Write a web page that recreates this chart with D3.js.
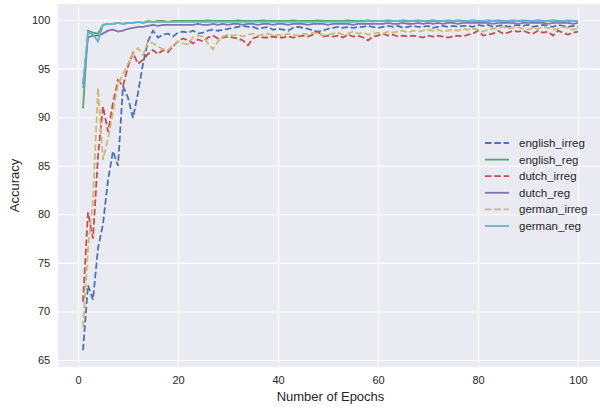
<!DOCTYPE html>
<html>
<head>
<meta charset="utf-8">
<title>Accuracy per epoch</title>
<script src="https://cdn.jsdelivr.net/npm/d3@7"></script>
<style>
  body { margin: 0; background: #fff; }
  svg text { font-family: "Liberation Sans", Arial, sans-serif; fill: #262626; }
</style>
</head>
<body>
<div id="chart"></div>
<script>
    // values, one per epoch (1..100)
    var englishIrreg = [66.0, 72.7, 71.2, 76.5, 79.0, 83.5, 86.5, 85.0, 93.2, 92.0,
        89.9, 92.5, 95.5, 97.8, 98.9, 98.2, 98.5, 98.6, 98.3, 98.7,
        98.8, 98.7, 98.9, 98.6, 98.7, 98.9, 99.0, 98.9, 99.0, 99.1,
        99.2, 99.3, 99.4, 99.3, 99.3, 99.1, 99.2, 99.3, 99.0, 99.1,
        99.0, 98.9, 99.2, 99.3, 99.2, 99.1, 98.9, 98.8, 98.9, 99.1,
        99.2, 99.3, 99.2, 99.3, 99.2, 99.3, 99.3, 99.4, 99.3, 99.2,
        99.3, 99.4, 99.3, 99.4, 99.2, 99.3, 99.4, 99.3, 99.3, 99.4,
        99.2, 99.3, 99.4, 99.3, 99.4, 99.3, 99.4, 99.4, 99.3, 99.5,
        99.4, 99.5, 99.3, 99.4, 99.5, 99.3, 99.4, 99.5, 99.4, 99.5,
        99.3, 99.4, 99.5, 99.4, 99.3, 99.5, 99.4, 99.3, 99.4, 99.3];
    var englishReg = [90.9, 98.9, 98.7, 98.6, 99.5, 99.6, 99.6, 99.7, 99.6, 99.7,
        99.7, 99.8, 99.7, 99.9, 99.8, 99.9, 99.9, 99.8, 99.9, 99.9,
        99.9, 99.9, 99.9, 99.9, 99.9, 99.95, 99.9, 99.9, 99.9, 99.9,
        99.9, 99.95, 99.9, 99.9, 99.9, 99.9, 99.95, 99.9, 99.9, 99.9,
        99.9, 99.9, 99.95, 99.9, 99.9, 99.9, 99.9, 99.95, 99.9, 99.9,
        99.9, 99.9, 99.9, 99.95, 99.9, 99.9, 99.9, 99.95, 99.9, 99.9,
        99.9, 99.95, 99.9, 99.9, 99.95, 99.9, 99.9, 99.95, 99.9, 99.9,
        99.95, 99.9, 99.9, 99.95, 99.9, 99.95, 99.9, 99.9, 99.95, 99.9,
        99.9, 99.95, 99.9, 99.95, 99.9, 99.9, 99.95, 99.9, 99.95, 99.9,
        99.9, 99.95, 99.9, 99.9, 99.95, 99.9, 99.9, 99.95, 99.9, 99.9];
    var dutchIrreg = [71.0, 80.2, 77.5, 86.0, 91.1, 88.5, 91.5, 93.8, 93.2, 95.2,
        96.6, 95.5, 95.9, 96.5, 96.9, 96.5, 96.9, 96.7, 97.3, 97.8,
        98.1, 97.9, 97.6, 98.0, 97.8, 98.2, 98.4, 98.1, 98.2, 98.3,
        98.2, 98.1, 97.9, 97.4, 98.1, 98.3, 98.2, 98.2, 98.3, 98.2,
        98.2, 98.3, 98.2, 98.3, 98.4, 98.3, 98.5, 98.8, 98.3, 98.4,
        98.3, 98.4, 98.2, 98.5, 98.3, 98.4, 98.2, 97.9, 98.3, 98.4,
        98.6, 98.4, 98.5, 98.3, 98.4, 98.3, 98.4, 98.3, 98.2, 98.4,
        98.3, 98.4, 98.3, 98.2, 98.3, 98.4, 98.3, 98.5, 98.6, 98.9,
        98.4, 98.5, 98.6, 98.9, 98.6, 98.7, 98.9, 98.8, 98.9, 98.7,
        98.6, 98.9, 98.7, 98.8, 98.4, 98.9, 98.7, 98.5, 98.7, 98.8];
    var dutchReg = [93.4, 98.2, 98.4, 98.4, 98.6, 98.9, 99.0, 98.8, 98.9, 99.1,
        99.2, 99.3, 99.3, 99.4, 99.5, 99.4, 99.5, 99.5, 99.5, 99.5,
        99.5, 99.5, 99.5, 99.6, 99.5, 99.5, 99.6, 99.5, 99.6, 99.5,
        99.6, 99.6, 99.5, 99.6, 99.6, 99.5, 99.6, 99.6, 99.5, 99.6,
        99.6, 99.5, 99.6, 99.6, 99.6, 99.5, 99.6, 99.6, 99.6, 99.5,
        99.6, 99.6, 99.6, 99.6, 99.5, 99.6, 99.6, 99.6, 99.6, 99.6,
        99.6, 99.7, 99.6, 99.6, 99.7, 99.6, 99.6, 99.7, 99.6, 99.7,
        99.6, 99.7, 99.6, 99.7, 99.7, 99.6, 99.7, 99.7, 99.7, 99.7,
        99.7, 99.7, 99.6, 99.7, 99.7, 99.7, 99.7, 99.6, 99.7, 99.7,
        99.7, 99.7, 99.7, 99.6, 99.7, 99.7, 99.7, 99.7, 99.6, 99.7];
    var germanIrreg = [68.4, 76.5, 81.5, 93.0, 85.6, 87.8, 90.5, 93.4, 94.4, 95.5,
        96.5, 97.1, 96.4, 97.8, 97.6, 97.3, 97.0, 96.9, 97.4, 97.8,
        97.6, 97.5, 98.2, 98.4, 98.3, 97.6, 97.0, 97.8, 98.3, 98.5,
        98.4, 98.5, 98.3, 98.5, 98.6, 98.4, 98.5, 98.6, 98.4, 98.5,
        98.4, 98.6, 98.5, 98.4, 98.6, 98.5, 98.7, 98.6, 98.4, 98.5,
        98.6, 98.7, 98.5, 98.6, 98.8, 98.6, 98.7, 98.5, 98.6, 98.7,
        98.6, 98.8, 98.7, 98.8, 98.9, 98.7, 98.9, 98.8, 98.9, 99.0,
        98.9, 99.0, 98.8, 98.9, 99.0, 98.9, 99.1, 99.0, 99.1, 99.0,
        98.8, 99.0, 99.1, 99.2, 99.3, 99.1, 99.2, 99.3, 99.1, 99.0,
        99.2, 99.1, 99.3, 99.2, 99.0, 99.1, 99.3, 99.2, 99.0, 99.1];
    var germanReg = [93.0, 98.8, 98.5, 97.8, 99.5, 99.6, 99.6, 99.7, 99.6, 99.7,
        99.7, 99.8, 99.7, 99.8, 99.8, 99.8, 99.8, 99.8, 99.8, 99.8,
        99.8, 99.8, 99.8, 99.8, 99.8, 99.8, 99.85, 99.8, 99.8, 99.8,
        99.8, 99.8, 99.8, 99.8, 99.85, 99.8, 99.8, 99.8, 99.8, 99.8,
        99.8, 99.8, 99.8, 99.85, 99.8, 99.8, 99.8, 99.8, 99.8, 99.8,
        99.8, 99.8, 99.85, 99.8, 99.8, 99.85, 99.85, 99.9, 99.85, 99.9,
        99.9, 99.85, 99.9, 99.9, 99.9, 99.85, 99.9, 99.9, 99.9, 99.9,
        99.85, 99.9, 99.9, 99.9, 99.9, 99.9, 99.85, 99.9, 99.9, 99.9,
        99.9, 99.9, 99.9, 99.85, 99.9, 99.9, 99.9, 99.9, 99.9, 99.85,
        99.9, 99.9, 99.9, 99.9, 99.9, 99.85, 99.9, 99.9, 99.9, 99.9];

    var seriesNames = ['english_irreg', 'english_reg', 'dutch_irreg', 'dutch_reg', 'german_irreg', 'german_reg'];
    var seriesValues = [englishIrreg, englishReg, dutchIrreg, dutchReg, germanIrreg, germanReg];
    var xTicks = [0, 20, 40, 60, 80, 100];
    var yTicks = [65, 70, 75, 80, 85, 90, 95, 100];

    var colors = ['#4C72B0', '#55A868', '#C44E52', '#8172B2', '#CCB974', '#64B5CD'];
    var dashed = [true, false, true, false, true, false];

    var svgW = 600, svgH = 410;
    var plotL = 58.25, plotR = 602.75, plotT = 4, plotB = 366.8;

    var svg = d3.select('#chart')
        .append('svg')
        .attr('width', svgW)
        .attr('height', svgH);

    var x = d3.scaleLinear().domain([-3.95, 104.95]).range([plotL, plotR]);
    var y = d3.scaleLinear().domain([64.3, 101.65]).range([plotB, plotT]);

    svg.append('rect')
        .attr('x', plotL).attr('y', plotT)
        .attr('width', plotR - plotL).attr('height', plotB - plotT)
        .attr('fill', '#EAEAF2');

    // grid + tick labels
    var gx = svg.append('g')
        .attr('transform', `translate(0,${plotB})`)
        .call(d3.axisBottom(x).tickValues(xTicks).tickSize(-(plotB - plotT)).tickPadding(9).tickFormat(d3.format('d')));
    var gy = svg.append('g')
        .attr('transform', `translate(${plotL},0)`)
        .call(d3.axisLeft(y).tickValues(yTicks).tickSize(-(plotR - plotL)).tickPadding(8).tickFormat(d3.format('d')));

    [gx, gy].forEach(g => {
        g.select('.domain').remove();
        g.selectAll('.tick line').attr('stroke', '#fff').attr('stroke-width', 1.1);
        g.selectAll('.tick text').attr('font-size', 11).style('fill', '#262626');
    });

    var line = d3.line()
        .x((d, i) => x(i + 1))
        .y(d => y(d));

    seriesValues.forEach((vals, i) => {
        svg.append('path')
            .datum(vals)
            .attr('fill', 'none')
            .attr('stroke', colors[i])
            .attr('stroke-width', 1.8)
            .attr('stroke-dasharray', dashed[i] ? '6.5,2.8' : null)
            .attr('d', line);
    });

    // axis labels
    svg.append('text')
        .attr('x', (plotL + plotR) / 2)
        .attr('y', 401)
        .attr('text-anchor', 'middle')
        .attr('font-size', 13)
        .text('Number of Epochs');

    svg.append('text')
        .attr('transform', `translate(19,${(plotT + plotB) / 2}) rotate(-90)`)
        .attr('text-anchor', 'middle')
        .attr('font-size', 13)
        .text('Accuracy');

    // legend
    var legend = svg.append('g').attr('transform', 'translate(485,143)');
    seriesNames.forEach((name, i) => {
        var row = legend.append('g').attr('transform', `translate(0,${i * 16.6})`);
        row.append('line')
            .attr('x1', 0).attr('x2', 24)
            .attr('stroke', colors[i])
            .attr('stroke-width', 1.8)
            .attr('stroke-dasharray', dashed[i] ? '6.5,2.8' : null);
        row.append('text')
            .attr('x', 34)
            .attr('dy', '0.35em')
            .attr('font-size', 11.5)
            .text(name);
    });
</script>
</body>
</html>
